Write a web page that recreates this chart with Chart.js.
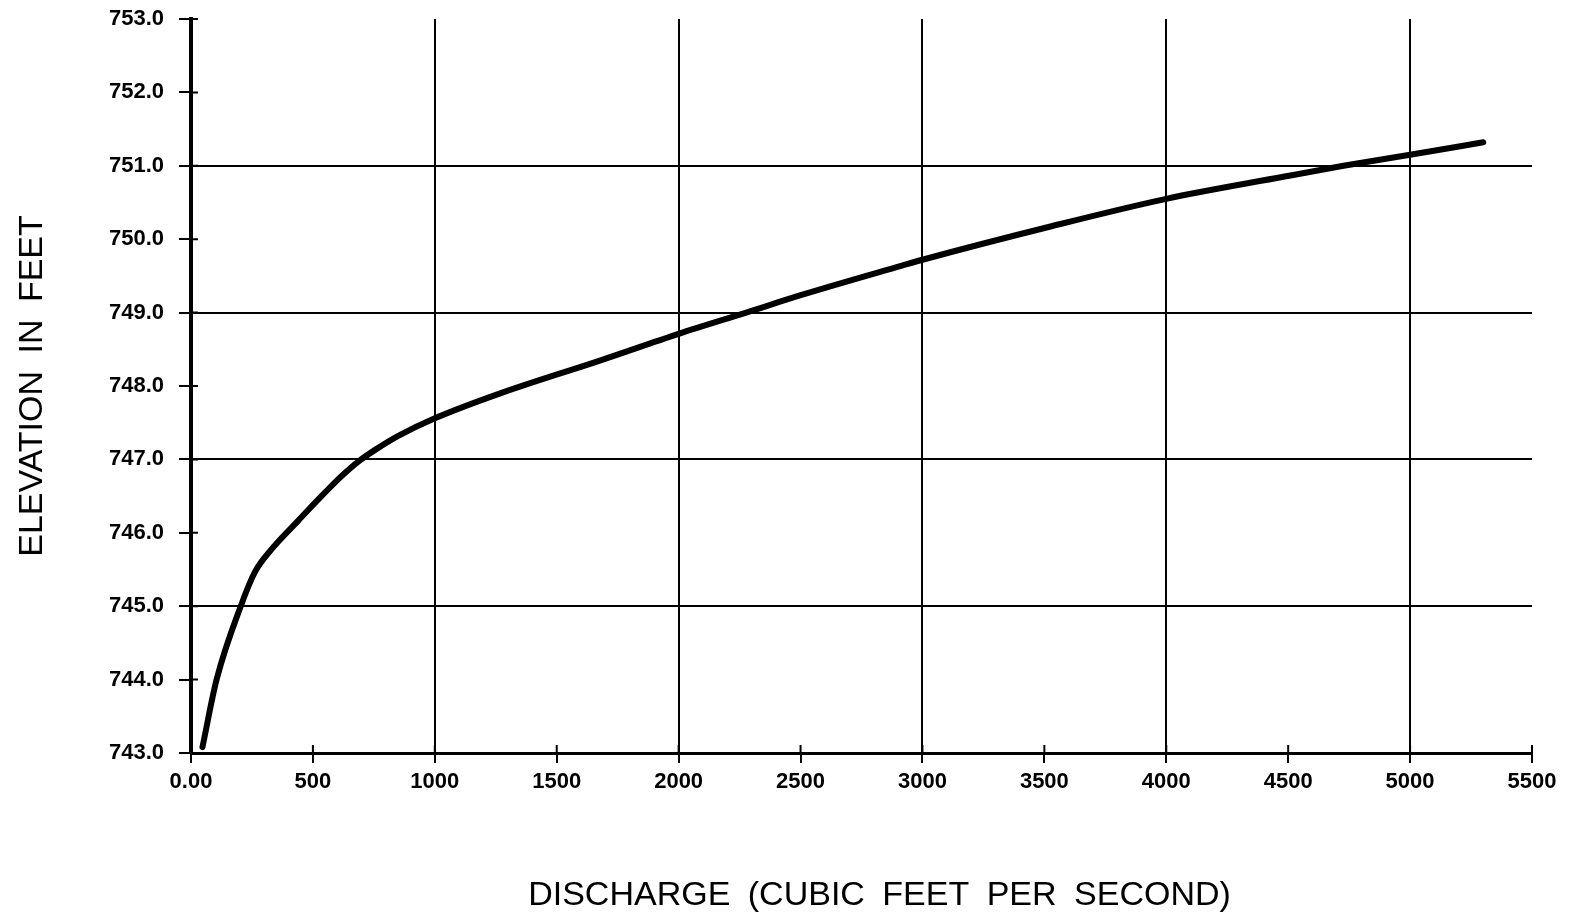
<!DOCTYPE html>
<html>
<head>
<meta charset="utf-8">
<script src="https://cdn.jsdelivr.net/npm/chart.js@4"></script>
<style>
  body { margin: 0; background: #fff; }
  #wrap { width: 1572px; height: 913px; }
</style>
</head>
<body>
<div id="wrap"><canvas id="rating-chart"></canvas></div>
<script>
// Curva de descarga: caudal (cfs) contra elevación (ft)
const discharge = [47, 105, 204, 263, 329, 441, 553, 620, 690, 760, 850, 1000, 1268, 1680, 2000, 2277, 2504, 2916, 3000, 3521, 4000, 4480, 4727, 5000, 5300];
const elevation = [743.08, 744.0, 745.0, 745.47, 745.77, 746.17, 746.56, 746.78, 746.98, 747.14, 747.32, 747.56, 747.90, 748.35, 748.71, 749.0, 749.24, 749.64, 749.72, 750.17, 750.55, 750.85, 751.0, 751.15, 751.32];

const xMin = 0, xMax = 5500, xStep = 500;
const yMin = 743, yMax = 753, yStep = 1;
const xGridValues = [1000, 2000, 3000, 4000, 5000];
const yGridValues = [745, 747, 749, 751];

const xTitle = 'DISCHARGE (CUBIC FEET PER SECOND)';
const yTitle = 'ELEVATION IN FEET';

const points = discharge.map((q, i) => ({ x: q, y: elevation[i] }));

// ticks that also cross into the plot area, plus wider word spacing for titles
const innerTicks = {
  id: 'innerTicks',
  beforeDraw(chart) {
    chart.ctx.wordSpacing = '8px';
  },
  afterDraw(chart) {
    const { ctx, chartArea, scales: { x, y } } = chart;
    ctx.save();
    ctx.strokeStyle = '#000';
    ctx.lineWidth = 2;
    ctx.beginPath();
    x.ticks.forEach(t => {
      const px = x.getPixelForValue(t.value);
      ctx.moveTo(px, chartArea.bottom);
      ctx.lineTo(px, chartArea.bottom - 8);
    });
    y.ticks.forEach(t => {
      const py = y.getPixelForValue(t.value);
      ctx.moveTo(chartArea.left, py);
      ctx.lineTo(chartArea.left + 7, py);
    });
    ctx.stroke();
    ctx.restore();
  }
};

// x title sits a little right of the plot centre in the original
const shiftTitle = (scale) => {
  if (scale._shifted) return;
  const orig = scale.drawTitle;
  scale.drawTitle = function () {
    this.ctx.save();
    this.ctx.translate(18, 0);
    orig.call(this);
    this.ctx.restore();
  };
  scale._shifted = true;
};

const ctx = document.getElementById('rating-chart').getContext('2d');
new Chart(ctx, {
  type: 'line',
  data: {
    datasets: [{
      data: points,
      borderColor: '#000',
      borderWidth: 6,
      pointRadius: 0,
      fill: false,
      cubicInterpolationMode: 'monotone',
      borderCapStyle: 'round'
    }]
  },
  options: {
    responsive: true,
    maintainAspectRatio: false,
    animation: false,
    layout: { padding: { top: 19, right: 40, left: 0, bottom: 0 } },
    plugins: {
      legend: { display: false },
      tooltip: { enabled: false }
    },
    scales: {
      x: {
        type: 'linear',
        min: xMin,
        max: xMax,
        afterFit: (scale) => { scale.height = 160; },
        afterUpdate: shiftTitle,
        ticks: {
          stepSize: xStep,
          color: '#000',
          padding: 6,
          maxRotation: 0,
          font: { family: 'Liberation Sans', size: 22, weight: 'bold' },
          callback: (v) => v === 0 ? '0.00' : String(v)
        },
        grid: {
          color: (c) => xGridValues.includes(c.tick.value) ? '#000' : 'rgba(0,0,0,0)',
          lineWidth: 2,
          tickColor: '#000',
          tickWidth: 2,
          tickLength: 10
        },
        border: { color: '#000', width: 3 },
        title: {
          display: true,
          text: xTitle,
          color: '#000',
          font: { family: 'Liberation Sans', size: 34, lineHeight: 1.0 },
          padding: { top: 0, bottom: 0 }
        }
      },
      y: {
        type: 'linear',
        min: yMin,
        max: yMax,
        afterFit: (scale) => {
          scale.width = 191;
          scale.paddingTop = 0;
          scale.paddingBottom = 0;
        },
        ticks: {
          stepSize: yStep,
          color: '#000',
          padding: 15,
          font: { family: 'Liberation Sans', size: 22, weight: 'bold' },
          callback: (v) => Number(v).toFixed(1)
        },
        grid: {
          color: (c) => yGridValues.includes(c.tick.value) ? '#000' : 'rgba(0,0,0,0)',
          lineWidth: 2,
          tickColor: '#000',
          tickWidth: 2,
          tickLength: 12
        },
        border: { color: '#000', width: 4 },
        title: {
          display: true,
          text: yTitle,
          color: '#000',
          font: { family: 'Liberation Sans', size: 34 },
          padding: { top: 12, bottom: 0 }
        }
      }
    }
  },
  plugins: [innerTicks]
});
</script>
</body>
</html>
